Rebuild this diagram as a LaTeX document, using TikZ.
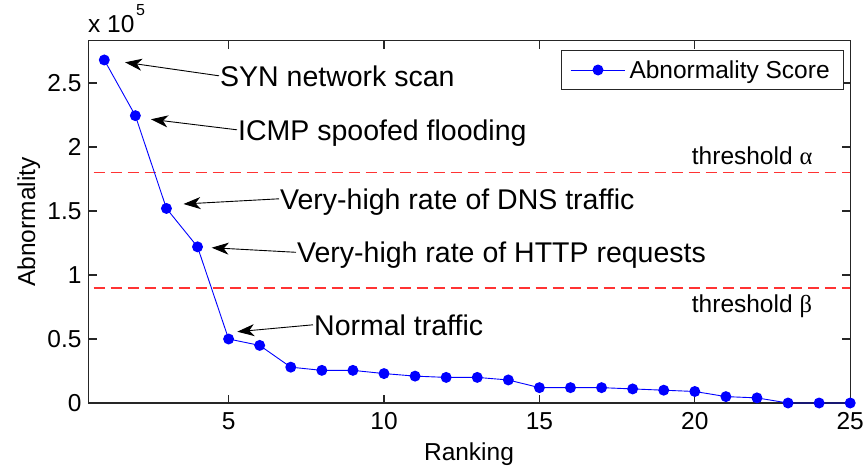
\documentclass[tikz,border=0pt]{standalone}
\usepackage{fontspec}
\setmainfont{Liberation Sans}
\newfontfamily\greekfont{Liberation Serif}
\usetikzlibrary{arrows.meta}

\definecolor{scoreblue}{rgb}{0,0,1}
\definecolor{threshred}{rgb}{1,0.2,0.2}
\definecolor{axisgray}{rgb}{0.15,0.15,0.15}

\begin{document}
\begin{tikzpicture}[x=1pt,y=-1pt,
  axisline/.style={line width=1.1pt, axisgray},
  ticklabel/.style={font=\fontsize{24.5}{28}\selectfont, inner sep=0pt},
  labeltext/.style={font=\fontsize{24.5}{28}\selectfont, inner sep=0pt},
  annot/.style={font=\fontsize{28.5}{32}\selectfont, inner sep=0pt, anchor=base west},
  pointer/.style={line width=0.9pt, black, -{Stealth[length=17pt,width=12pt,inset=5pt]}},
  scoreline/.style={scoreblue, line width=0.9pt},
  dot/.style={circle, fill=scoreblue, inner sep=0pt, minimum size=11pt},
  threshline/.style={draw=threshred, line width=1.6pt, dash pattern=on 11pt off 6pt, dash phase=12pt},
]
\useasboundingbox (0,0) rectangle (867,466);

% ---------- data axes: ranking on x, abnormality (x 10^5) on y ----------
\begin{scope}[shift={(73.2,403)}, x=31.08pt, y=128pt]
  % thresholds
  \coordinate (a0) at (0.5,1.8);
  \coordinate (a1) at (25,1.8);
  \coordinate (b0) at (0.5,0.9);
  \coordinate (b1) at (25,0.9);
  \path[threshline] (a0) -- (a1);
  \path[threshline] (b0) -- (b1);

  % axis box and ticks
  \draw[axisline] (0.5,0) rectangle (25,2.83);
  \foreach \t in {5,10,15,20,25} {
    \draw[axisline] (\t,0) -- ++(0pt,8pt);
    \draw[axisline] (\t,2.83) -- ++(0pt,-8pt);
    \path (\t,0) ++(0pt,-18.5pt) node[ticklabel] (xl\t) {\t};
  }
  \foreach \v/\lab [count=\k] in {0/0,0.5/0.5,1/1,1.5/1.5,2/2,2.5/2.5} {
    \draw[axisline] (0.5,\v) -- ++(8pt,0pt);
    \draw[axisline] (25,\v) -- ++(-8pt,0pt);
    \path (0.5,\v) ++(-7pt,0pt) node[ticklabel, anchor=east] (yl\k) {\lab};
  }

  % abnormality scores
  \foreach \r/\v in {1/2.68,2/2.245,3/1.52,4/1.22,5/0.50,6/0.45,7/0.28,8/0.255,
                     9/0.255,10/0.23,11/0.21,12/0.20,13/0.20,14/0.18,15/0.12,
                     16/0.12,17/0.12,18/0.11,19/0.10,20/0.09,21/0.05,22/0.04,
                     23/0,24/0,25/0}
    \coordinate (p\r) at (\r,\v);
  \draw[scoreline] (p1) \foreach \i in {2,...,25} { -- (p\i) };
  \foreach \i in {1,...,25} \node[dot] (d\i) at (p\i) {};
\end{scope}

% ---------- axis labels ----------
\node[labeltext, anchor=base west] (mult) at (88,32) {x 10};
\node[font=\fontsize{16}{18}\selectfont, inner sep=0pt, anchor=base west] (expo) at (136,15.5) {5};
\node[labeltext, anchor=base] (xlabel) at (469,460) {Ranking};
\node[labeltext, anchor=base, rotate=90] (ylabel) at (35,222) {Abnormality};

% ---------- threshold labels ----------
\node[labeltext, anchor=base west] (alpha) at (691.7,164) {threshold {\greekfont α}};
\node[labeltext, anchor=base west] (beta) at (691.7,312.3) {threshold {\greekfont β}};

% ---------- annotations ----------
\node[annot] (syn)  at (220,86)    {SYN network scan};
\node[annot] (icmp) at (238,140)   {ICMP spoofed flooding};
\node[annot] (dns)  at (280,209)   {Very-high rate of DNS traffic};
\node[annot] (http) at (297,262.5) {Very-high rate of HTTP requests};
\node[annot] (norm) at (314,335)   {Normal traffic};

\coordinate (t1) at (125,62.3);
\coordinate (t2) at (151,119.3);
\coordinate (t3) at (183.5,204);
\coordinate (t4) at (211.7,247.7);
\coordinate (t5) at (237.3,331.7);

\draw[pointer] ([xshift=-1pt,yshift=10.2pt]syn.base west)  -- (t1);
\draw[pointer] ([xshift=-1pt,yshift=10.2pt]icmp.base west) -- (t2);
\draw[pointer] ([xshift=-1pt,yshift=10.2pt]dns.base west)  -- (t3);
\draw[pointer] ([xshift=-1pt,yshift=10.2pt]http.base west) -- (t4);
\draw[pointer] ([xshift=-1pt,yshift=10.2pt]norm.base west) -- (t5);

% ---------- legend ----------
\node[draw=axisgray, line width=1pt, fill=white, anchor=north west, inner sep=0pt,
      minimum width=282.6pt, minimum height=39pt] (legend) at (560.7,50) {};
\coordinate (ls) at (570.7,70);
\coordinate (le) at (625,70);
\draw[scoreline] (ls) -- (le);
\node[dot] (ldot) at (598,70) {};
\node[labeltext, anchor=base west] (ltext) at (629.3,78.3) {Abnormality Score};
\end{tikzpicture}
\end{document}
